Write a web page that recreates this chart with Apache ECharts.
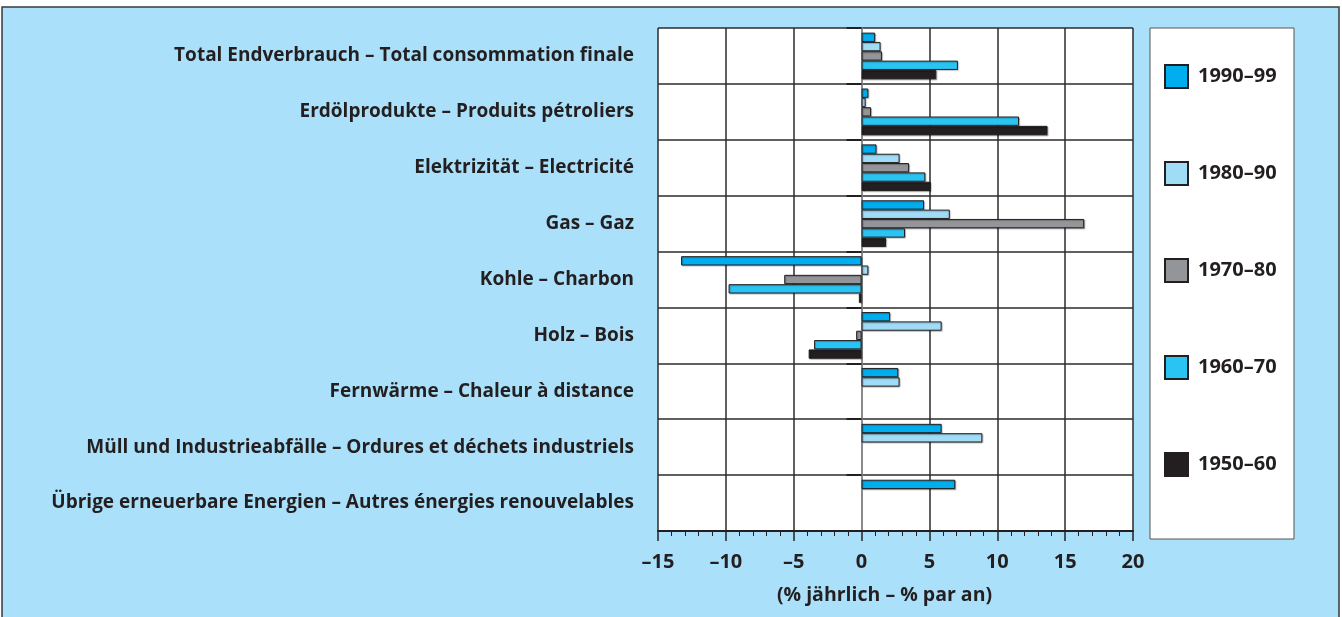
<!DOCTYPE html>
<html>
<head>
<meta charset="utf-8">
<script src="https://cdn.jsdelivr.net/npm/echarts@6/dist/echarts.min.js"></script>
<style>
  html, body { margin: 0; padding: 0; background: #fff; }
  #chart { width: 1342px; height: 617px; }
</style>
</head>
<body>
<div id="chart"></div>
<script>
// Kategorien (von oben nach unten)
const categories = [
  'Total Endverbrauch – Total consommation finale',
  'Erdölprodukte – Produits pétroliers',
  'Elektrizität – Electricité',
  'Gas – Gaz',
  'Kohle – Charbon',
  'Holz – Bois',
  'Fernwärme – Chaleur à distance',
  'Müll und Industrieabfälle – Ordures et déchets industriels',
  'Übrige erneuerbare Energien – Autres énergies renouvelables'
]

// Perioden (Legende)
const periods = ['1990–99', '1980–90', '1970–80', '1960–70', '1950–60']

// Wachstum in % pro Jahr
const v1990 = [1.0, 0.5, 1.1, 4.6, -13.3, 2.1, 2.7, 5.9, 6.9]
const v1980 = [1.4, 0.3, 2.8, 6.5, 0.5, 5.9, 2.8, 8.9, null]
const v1970 = [1.5, 0.7, 3.5, 16.4, -5.7, -0.4, null, null, null]
const v1960 = [7.1, 11.6, 4.7, 3.2, -9.8, -3.5, null, null, null]
const v1950 = [5.5, 13.7, 5.1, 1.8, -0.2, -3.9, null, null, null]

const xMin = -15
const xMax = 20
const xStep = 5

const colors = ['#00aeef', '#a0dcf6', '#939598', '#2ac4f3', '#231f20']
const seriesValues = [v1990, v1980, v1970, v1960, v1950]

const chart = echarts.init(document.getElementById('chart'))
const textColor = '#231f20'
const font = '"Open Sans", "Noto Sans", sans-serif'

const option = {
  backgroundColor: '#fff',
  textStyle: { fontFamily: font },
  graphic: [
    {
      type: 'rect',
      z: -10,
      shape: { x: 2, y: 7, width: 1337, height: 620 },
      style: { fill: '#abe0fa', stroke: '#3a3a3a', lineWidth: 1.5 }
    },
    {
      type: 'rect',
      z: -5,
      shape: { x: 1150, y: 28, width: 144, height: 511 },
      style: { fill: '#fff', stroke: '#555', lineWidth: 1 }
    }
  ],
  legend: {
    orient: 'vertical',
    left: 1164,
    top: 64,
    padding: 0,
    itemWidth: 23,
    itemHeight: 23,
    itemGap: 72,
    icon: 'rect',
    data: periods,
    textStyle: {
      fontSize: 20,
      fontWeight: 'bold',
      color: textColor,
      fontFamily: font,
      padding: [0, 0, 0, 5]
    }
  },
  grid: {
    left: 658,
    right: 209,
    top: 28,
    bottom: 86,
    show: true,
    backgroundColor: '#fff',
    borderWidth: 0
  },
  xAxis: {
    type: 'value',
    min: xMin,
    max: xMax,
    interval: xStep,
    name: '(% jährlich – % par an)',
    nameLocation: 'middle',
    nameGap: 54,
    nameTextStyle: {
      fontSize: 19.5,
      fontWeight: 'bold',
      color: textColor,
      padding: [0, 22, 0, 0]
    },
    axisLine: { show: true, lineStyle: { color: '#231f20', width: 2 } },
    axisTick: { show: true, length: 10, lineStyle: { color: '#231f20', width: 1.5 } },
    minorTick: { show: true, splitNumber: 5, length: 5, lineStyle: { color: '#231f20', width: 1 } },
    axisLabel: {
      fontSize: 20,
      fontWeight: 'bold',
      color: textColor,
      margin: 21,
      formatter: v => (v < 0 ? '–' + Math.abs(v) : String(v))
    },
    splitLine: { show: true, lineStyle: { color: '#2b2b2b', width: 1.5 } }
  },
  yAxis: [
    {
      type: 'category',
      data: categories,
      inverse: true,
      axisLine: { show: false, onZero: false },
      axisTick: { show: false },
      axisLabel: {
        fontSize: 19,
        fontWeight: 'bold',
        color: textColor,
        margin: 24
      },
      splitLine: { show: true, lineStyle: { color: '#2b2b2b', width: 1.5 } }
    },
    {
      type: 'category',
      data: categories,
      inverse: true,
      position: 'left',
      axisLine: { show: true, onZero: true, lineStyle: { color: '#9a9a9a', width: 1.5 } },
      axisTick: { show: true, length: 15, lineStyle: { color: '#231f20', width: 2 } },
      axisLabel: { show: false },
      splitLine: { show: false }
    }
  ],
  series: periods.map((p, i) => ({
    name: p,
    type: 'bar',
    yAxisIndex: 0,
    data: seriesValues[i],
    barGap: '0%',
    barCategoryGap: '16.5%',
    itemStyle: {
      color: colors[i],
      borderColor: '#231f20',
      borderWidth: 1,
      shadowColor: 'rgba(0,0,0,0.25)',
      shadowOffsetX: 1,
      shadowOffsetY: 1,
      shadowBlur: 1
    }
  }))
}

chart.setOption(option)
window.addEventListener('resize', () => chart.resize())
</script>
</body>
</html>
